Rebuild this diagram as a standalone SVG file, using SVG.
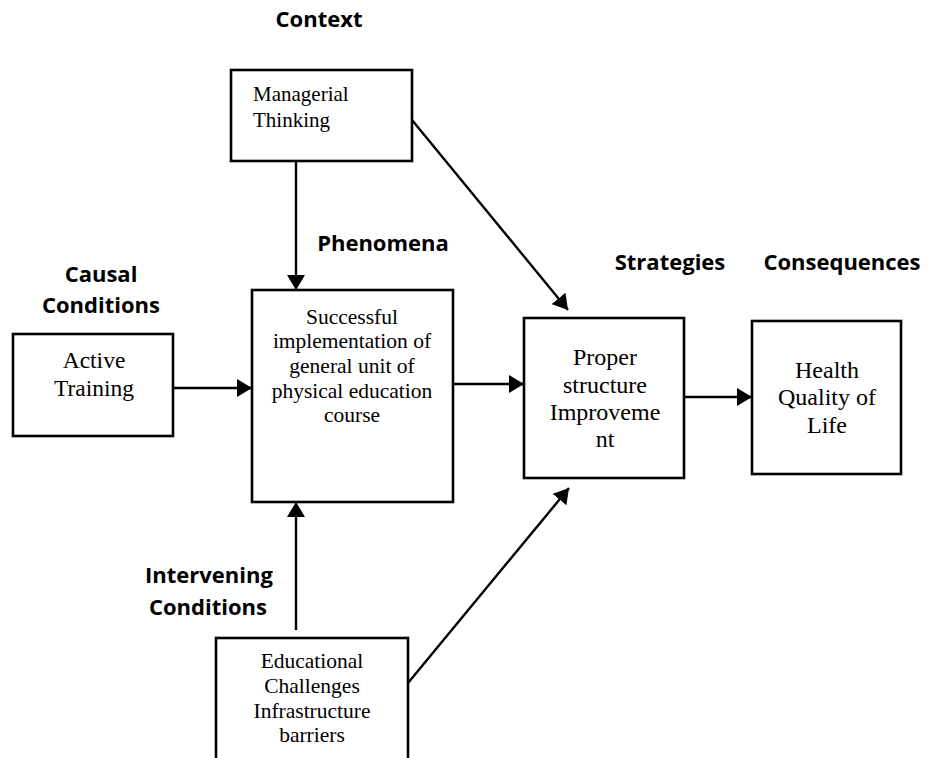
<svg xmlns="http://www.w3.org/2000/svg" width="927" height="758" viewBox="0 0 927 758">
<style>
.box{fill:#fff;stroke:#000;stroke-width:2.6}
.t{font-family:"Liberation Serif","Times New Roman",serif;fill:#000}
.lbl{font-family:"Open Sans","Liberation Sans",sans-serif;font-weight:bold;font-size:22px;fill:#000}
.c{stroke:#000;stroke-width:2.4;fill:none;marker-end:url(#ah)}
</style>
<defs>
<marker id="ah" markerUnits="userSpaceOnUse" viewBox="0 0 15 18" refX="15" refY="9" markerWidth="15" markerHeight="18" orient="auto">
<path d="M0,0 L15,9 L0,18 Z" fill="#000"/>
</marker>
</defs>
<rect width="927" height="758" fill="#fff"/>

<g id="labels">
<text class="lbl" x="319" y="27" text-anchor="middle">Context</text>
<text class="lbl" x="383" y="251" text-anchor="middle">Phenomena</text>
<text class="lbl" x="101" y="282" text-anchor="middle">Causal</text>
<text class="lbl" x="101" y="313" text-anchor="middle">Conditions</text>
<text class="lbl" x="670" y="270" text-anchor="middle">Strategies</text>
<text class="lbl" x="842" y="270" text-anchor="middle">Consequences</text>
<text class="lbl" x="209" y="583" text-anchor="middle">Intervening</text>
<text class="lbl" x="208" y="615" text-anchor="middle">Conditions</text>
</g>

<g id="connectors">
<line class="c" x1="296" y1="161" x2="296" y2="290"/>
<line class="c" x1="173" y1="388" x2="252" y2="388"/>
<line class="c" x1="453" y1="384" x2="524" y2="384"/>
<line class="c" x1="684" y1="397" x2="752" y2="397"/>
<line class="c" x1="296" y1="630" x2="296" y2="502"/>
<line class="c" x1="412" y1="120" x2="568" y2="310"/>
<line class="c" x1="408" y1="683" x2="569" y2="488"/>
</g>

<g id="managerial">
<rect class="box" x="231" y="70" width="181" height="91"/>
<text class="t" font-size="21" x="253" y="101">Managerial</text>
<text class="t" font-size="21" x="253" y="127">Thinking</text>
</g>

<g id="active">
<rect class="box" x="13" y="334" width="160" height="102"/>
<text class="t" font-size="23.5" x="94" y="368" text-anchor="middle">Active</text>
<text class="t" font-size="23.5" x="94" y="396" text-anchor="middle">Training</text>
</g>

<g id="phenomena">
<rect class="box" x="252" y="290" width="201" height="212"/>
<text class="t" font-size="21.5" x="352" y="324" text-anchor="middle">Successful</text>
<text class="t" font-size="21.5" x="352" y="348" text-anchor="middle">implementation of</text>
<text class="t" font-size="21.5" x="352" y="373" text-anchor="middle">general unit of</text>
<text class="t" font-size="21.5" x="352" y="398" text-anchor="middle">physical education</text>
<text class="t" font-size="21.5" x="352" y="422" text-anchor="middle">course</text>
</g>

<g id="strategies">
<rect class="box" x="524" y="318" width="160" height="160"/>
<text class="t" font-size="24" x="605" y="365" text-anchor="middle">Proper</text>
<text class="t" font-size="24" x="605" y="393" text-anchor="middle">structure</text>
<text class="t" font-size="24" x="605" y="420" text-anchor="middle">Improveme</text>
<text class="t" font-size="24" x="605" y="447" text-anchor="middle">nt</text>
</g>

<g id="health">
<rect class="box" x="752" y="321" width="149" height="153"/>
<text class="t" font-size="24" x="827" y="378" text-anchor="middle">Health</text>
<text class="t" font-size="24" x="827" y="405" text-anchor="middle">Quality of</text>
<text class="t" font-size="24" x="827" y="433" text-anchor="middle">Life</text>
</g>

<g id="educational">
<rect class="box" x="216" y="638" width="192" height="140"/>
<text class="t" font-size="21.5" x="312" y="668" text-anchor="middle">Educational</text>
<text class="t" font-size="21.5" x="312" y="693" text-anchor="middle">Challenges</text>
<text class="t" font-size="21.5" x="312" y="718" text-anchor="middle">Infrastructure</text>
<text class="t" font-size="21.5" x="312" y="742" text-anchor="middle">barriers</text>
</g>
</svg>
